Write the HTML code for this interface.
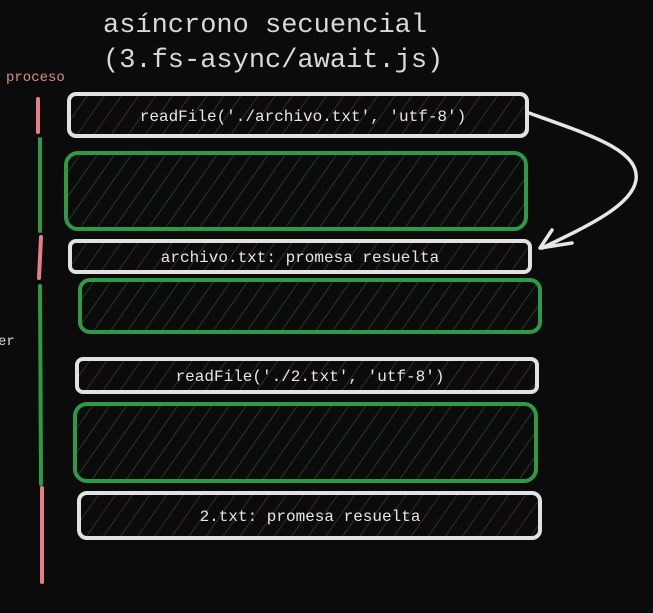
<!DOCTYPE html>
<html><head><meta charset="utf-8"><style>
html,body{margin:0;padding:0;background:#0b0b0b;}
svg{display:block}
text{font-family:"Liberation Mono","DejaVu Sans Mono",monospace;}
</style></head><body>
<svg width="653" height="613" viewBox="0 0 653 613" xmlns="http://www.w3.org/2000/svg">
<defs>
<pattern id="hr" width="14" height="14" patternUnits="userSpaceOnUse" patternTransform="rotate(35)">
<line x1="0" y1="0" x2="0" y2="14" stroke="#573033" stroke-width="1.4"/></pattern>
<pattern id="hg" width="14" height="14" patternUnits="userSpaceOnUse" patternTransform="rotate(35)">
<line x1="0" y1="0" x2="0" y2="14" stroke="#20552a" stroke-width="1.4"/></pattern>
</defs>
<rect width="653" height="613" fill="#0b0b0b"/>
<text x="103" y="32" font-size="27" fill="#d8d8d8" font-weight="500">asíncrono secuencial</text>
<text x="103" y="67" font-size="27" fill="#d8d8d8" font-weight="500">(3.fs-async/await.js)</text>
<text x="6" y="81" font-size="14" fill="#e08a8f">proceso</text>
<text x="-2" y="345" font-size="14" fill="#d8d8d8">er</text>

<g stroke-linecap="round" stroke-width="4" fill="none">
<line x1="38" y1="99" x2="38" y2="132" stroke="#e57f86"/>
<line x1="40" y1="139" x2="40" y2="231" stroke="#2e9a46"/>
<line x1="41" y1="237" x2="39" y2="278" stroke="#e57f86"/>
<line x1="40" y1="286" x2="41" y2="484" stroke="#2e9a46"/>
<line x1="42" y1="488" x2="42" y2="582" stroke="#e57f86"/>
</g>

<g stroke-width="4">
<rect x="69" y="94" width="458" height="42" rx="7" fill="url(#hr)" stroke="#e2e2e2"/>
<rect x="66" y="153" width="460" height="76" rx="12" fill="url(#hg)" stroke="#2e9a46"/>
<rect x="70" y="241" width="460" height="31" rx="6" fill="url(#hr)" stroke="#e2e2e2"/>
<rect x="80" y="280" width="460" height="52" rx="10" fill="url(#hg)" stroke="#2e9a46"/>
<rect x="77" y="359" width="460" height="33" rx="6" fill="url(#hr)" stroke="#e2e2e2"/>
<rect x="75" y="404" width="461" height="77" rx="12" fill="url(#hg)" stroke="#2e9a46"/>
<rect x="79" y="493" width="461" height="45" rx="8" fill="url(#hr)" stroke="#e2e2e2"/>
</g>

<g font-size="16" fill="#e6e6e6" text-anchor="middle">
<text x="303" y="121">readFile('./archivo.txt', 'utf-8')</text>
<text x="300" y="262">archivo.txt: promesa resuelta</text>
<text x="310" y="381">readFile('./2.txt', 'utf-8')</text>
<text x="310" y="521">2.txt: promesa resuelta</text>
</g>

<g stroke="#e6e6e6" stroke-width="3.5" fill="none" stroke-linecap="round" stroke-linejoin="round">
<path d="M529 113 C590 135 640 150 636 180 C632 205 590 225 542 248"/>
<path d="M552 230 L540 248 L572 243"/>
</g>
</svg>
</body></html>
